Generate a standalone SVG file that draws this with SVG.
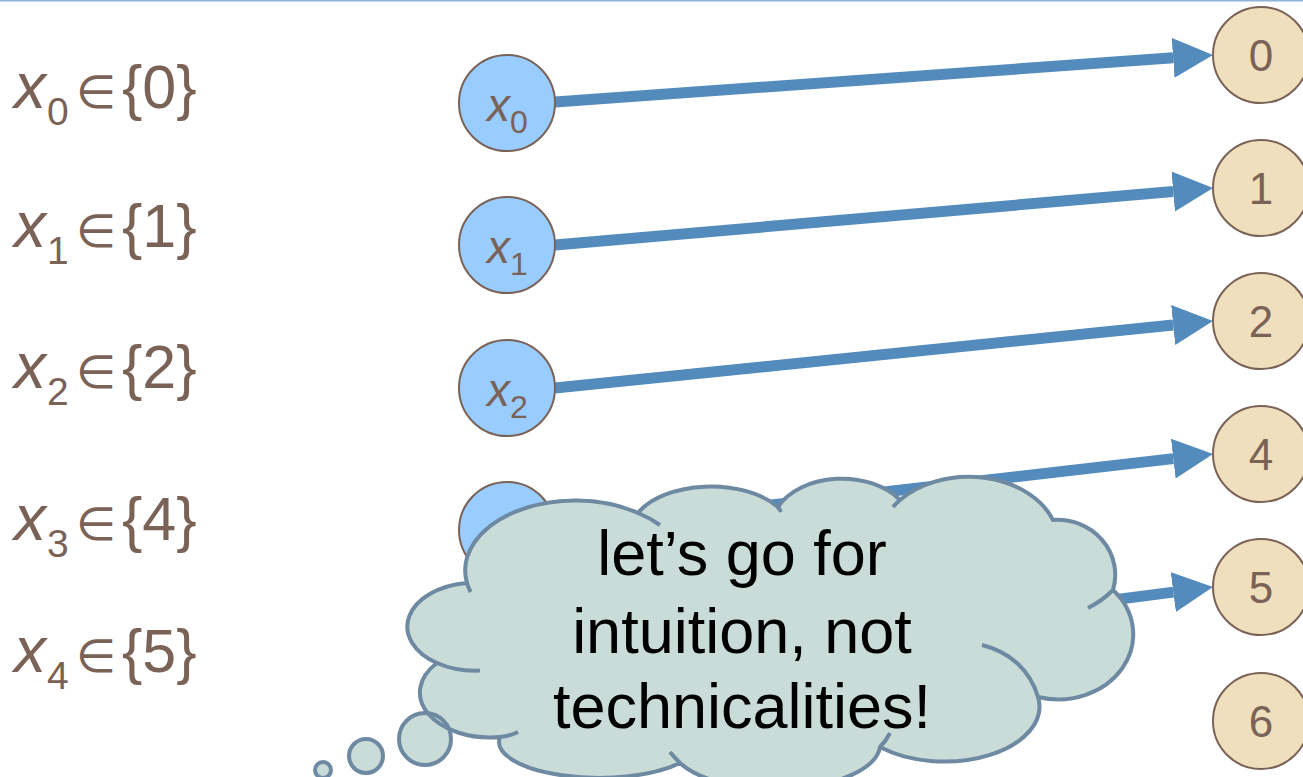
<svg xmlns="http://www.w3.org/2000/svg" width="1303" height="777" viewBox="0 0 1303 777">
<defs>
<style>
.lbl{font-family:"Liberation Sans",Arial,sans-serif;fill:#7a6257;}
.mem{font-family:"DejaVu Sans",sans-serif;fill:#7a6257;}
.var circle{fill:#99ccff;stroke:#7a6257;stroke-width:2;}
.val circle{fill:#efdfbc;stroke:#7a6257;stroke-width:2;}
.val text{font-family:"Liberation Sans",Arial,sans-serif;font-size:44px;fill:#7a6257;text-anchor:middle;}
.arr{stroke:#538bbd;stroke-width:11;fill:none;marker-end:url(#ah);}
.cloud{fill:#c9dcd8;stroke:#6e89a2;stroke-width:4;stroke-linejoin:round;}
.tail{fill:none;stroke:#6e89a2;stroke-width:4;stroke-linecap:butt;}
.ctext{font-family:"Liberation Sans",Arial,sans-serif;font-size:63px;fill:#000;text-anchor:middle;}
</style>
<marker id="ah" markerUnits="userSpaceOnUse" markerWidth="42" markerHeight="42" refX="0" refY="20" orient="auto" viewBox="0 0 42 40">
<path d="M0,0 L40,20 L0,40 Z" fill="#538bbd"/>
</marker>
</defs>
<rect x="0" y="0" width="1303" height="1.5" fill="#8db3d9"/>

<g id="labels">
<text class="lbl" x="14" y="108" font-size="64"><tspan font-style="italic">x</tspan></text>
<text class="lbl" x="47" y="125" font-size="39">0</text>
<text class="mem" x="76" y="108" font-size="46">∈</text>
<text class="lbl" x="122" y="108" font-size="61">{0}</text>

<text class="lbl" x="14" y="247" font-size="64"><tspan font-style="italic">x</tspan></text>
<text class="lbl" x="47" y="264" font-size="39">1</text>
<text class="mem" x="76" y="247" font-size="46">∈</text>
<text class="lbl" x="122" y="247" font-size="61">{1}</text>

<text class="lbl" x="14" y="388" font-size="64"><tspan font-style="italic">x</tspan></text>
<text class="lbl" x="47" y="405" font-size="39">2</text>
<text class="mem" x="76" y="388" font-size="46">∈</text>
<text class="lbl" x="122" y="388" font-size="61">{2}</text>

<text class="lbl" x="14" y="540" font-size="64"><tspan font-style="italic">x</tspan></text>
<text class="lbl" x="47" y="557" font-size="39">3</text>
<text class="mem" x="76" y="540" font-size="46">∈</text>
<text class="lbl" x="122" y="540" font-size="61">{4}</text>

<text class="lbl" x="14" y="672" font-size="64"><tspan font-style="italic">x</tspan></text>
<text class="lbl" x="47" y="689" font-size="39">4</text>
<text class="mem" x="76" y="672" font-size="46">∈</text>
<text class="lbl" x="122" y="672" font-size="61">{5}</text>
</g>

<g id="connectors">
<path class="arr" d="M555,102 L1173.1,57.8"/>
<path class="arr" d="M555,245 L1173.2,191.5"/>
<path class="arr" d="M555,388 L1173.2,325"/>
<path class="arr" d="M555,530 L1173.3,458.6"/>
<path class="arr" d="M555,672 L1173.3,592.1"/>
</g>

<g id="var-x0" class="var"><circle cx="507" cy="103" r="48"/><text class="lbl" x="487" y="121" font-size="46" font-style="italic">x</text><text class="lbl" x="510" y="133" font-size="32">0</text></g>
<g id="var-x1" class="var"><circle cx="507" cy="245" r="48"/><text class="lbl" x="487" y="263" font-size="46" font-style="italic">x</text><text class="lbl" x="510" y="275" font-size="32">1</text></g>
<g id="var-x2" class="var"><circle cx="507" cy="388" r="48"/><text class="lbl" x="487" y="406" font-size="46" font-style="italic">x</text><text class="lbl" x="510" y="418" font-size="32">2</text></g>
<g id="var-x3" class="var"><circle cx="507" cy="530" r="48"/><text class="lbl" x="487" y="548" font-size="46" font-style="italic">x</text><text class="lbl" x="510" y="560" font-size="32">3</text></g>
<g id="var-x4" class="var"><circle cx="507" cy="672" r="48"/><text class="lbl" x="487" y="690" font-size="46" font-style="italic">x</text><text class="lbl" x="510" y="702" font-size="32">4</text></g>

<g id="val-0" class="val"><circle cx="1261" cy="55" r="48"/><text x="1261" y="71">0</text></g>
<g id="val-1" class="val"><circle cx="1261" cy="188" r="48"/><text x="1261" y="204">1</text></g>
<g id="val-2" class="val"><circle cx="1261" cy="321" r="48"/><text x="1261" y="337">2</text></g>
<g id="val-4" class="val"><circle cx="1261" cy="454" r="48"/><text x="1261" y="470">4</text></g>
<g id="val-5" class="val"><circle cx="1261" cy="587" r="48"/><text x="1261" y="603">5</text></g>
<g id="val-6" class="val"><circle cx="1261" cy="721" r="48"/><text x="1261" y="737">6</text></g>

<g id="thought">
<g fill="#c9dcd8">
<circle cx="323" cy="770" r="8"/>
<circle cx="366" cy="756" r="17"/>
<circle cx="425" cy="739" r="26"/>
</g>
<path class="cloud" d="M437,663 A68,44 0 0 1 467,583 A110,70 0 0 1 638,513 A80,45 0 0 1 778,507 A70,48 0 0 1 900,500 A90,66 0 0 1 1053,520 A58,55 0 0 1 1113,590 A75,65 0 0 1 1038,697 A95,55 0 0 1 880,747 A105,45 0 0 1 680,763 A100,36 0 0 1 500,737 A70,45 0 0 1 437,663 Z"/>
<g class="tail">
<path d="M437,663 A68,44 0 0 0 480,670.6"/>
<path d="M467,583 A110,70 0 0 0 470.6,592"/>
<path d="M638,513 A110,70 0 0 1 660,525"/>
<path d="M778,507 A80,45 0 0 1 781,512"/>
<path d="M900,500 A90,66 0 0 0 893,507"/>
<path d="M1113,590 Q1102,601 1088,608"/>
<path d="M982,645 C1010,652 1030,670 1038,697"/>
<path d="M880,747 Q886,741 890,733"/>
<path d="M680,763 Q674,757 670,752"/>
<path d="M500,737 Q510,736 518,732"/>
</g>
<g fill="none" stroke="#6e89a2" stroke-width="4">
<circle cx="323" cy="770" r="8"/>
<circle cx="366" cy="756" r="17"/>
<circle cx="425" cy="739" r="26"/>
</g>
<text class="ctext" x="742" y="575">let’s go for</text>
<text class="ctext" x="742" y="653">intuition, not</text>
<text class="ctext" x="742" y="728">technicalities!</text>
</g>
</svg>
